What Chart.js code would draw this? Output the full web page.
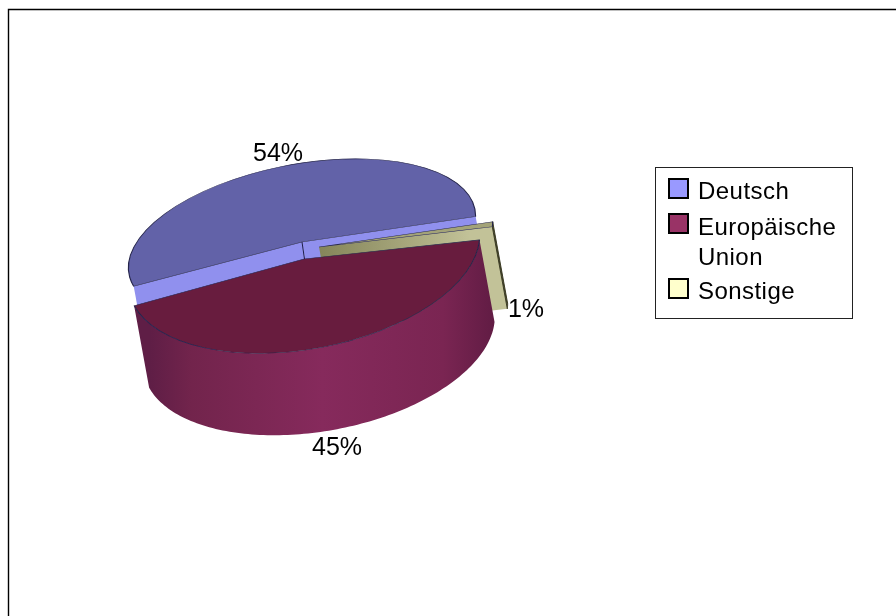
<!DOCTYPE html>
<html><head><meta charset="utf-8">
<style>html,body{margin:0;padding:0;background:#fff}canvas{display:block}</style>
<script src="https://cdn.jsdelivr.net/npm/chart.js@4"></script>
</head><body>
<canvas id="c" width="896" height="616"></canvas>
<script>
const categories = ['Deutsch', 'Europäische Union', 'Sonstige'];
const shares = [54, 45, 1];
const percentLabels = ['54%', '45%', '1%'];
const legendLines = [['Deutsch'], ['Europäische', 'Union'], ['Sonstige']];
const topColors = ['#6262a8', '#681c3e', '#a3a378'];
const swatchColors = ['#9999ff', '#993366', '#ffffcc'];

const FONT = '"Liberation Sans", Arial, sans-serif';
const TILT = -10.5 * Math.PI / 180;
const cosT = Math.cos(TILT), sinT = Math.sin(TILT);
const DROP = {x: 15, y: 82};
const shapes = [
  {cx: 302, cy: 242, a: 176, b: 78},
  {cx: 304, cy: 259, a: 178, b: 90},
  {cx: 319, cy: 247, a: 176, b: 80}
];
const labelSpots = [{x: 278, y: 154}, {x: 337, y: 448}, {x: 526, y: 310}];

function pt(s, ang) {
  const u = s.a * Math.cos(ang), v = -s.b * Math.sin(ang);
  return {x: s.cx + cosT * u - sinT * v, y: s.cy + sinT * u + cosT * v};
}
function quad(ctx, p, q, fill) {
  ctx.beginPath();
  ctx.moveTo(p.x, p.y); ctx.lineTo(q.x, q.y);
  ctx.lineTo(q.x + DROP.x, q.y + DROP.y); ctx.lineTo(p.x + DROP.x, p.y + DROP.y);
  ctx.closePath();
  ctx.fillStyle = fill; ctx.fill();
}
function rim(ctx, s, a0, a1, fill, edge) {
  const n = 120;
  ctx.beginPath();
  for (let i = 0; i <= n; i++) {
    const p = pt(s, a0 + (a1 - a0) * i / n);
    i ? ctx.lineTo(p.x, p.y) : ctx.moveTo(p.x, p.y);
  }
  for (let i = n; i >= 0; i--) {
    const p = pt(s, a0 + (a1 - a0) * i / n);
    ctx.lineTo(p.x + DROP.x, p.y + DROP.y);
  }
  ctx.closePath();
  ctx.fillStyle = fill; ctx.fill();
  if (edge) { ctx.strokeStyle = edge; ctx.lineWidth = 1; ctx.stroke(); }
}
function drawTop(ctx, arc, s) {
  const r = arc.outerRadius;
  ctx.save();
  ctx.transform(cosT * s.a / r, sinT * s.a / r, sinT * s.b / r, -cosT * s.b / r, s.cx, s.cy);
  ctx.translate(-arc.x, -arc.y);
  arc.draw(ctx);
  ctx.restore();
}

const pie3d = {
  id: 'pie3d',
  beforeDraw(chart) {
    const ctx = chart.ctx;
    ctx.save();
    ctx.fillStyle = '#fff'; ctx.fillRect(0, 0, 896, 616);
    ctx.strokeStyle = '#000'; ctx.lineWidth = 1.4;
    ctx.beginPath(); ctx.moveTo(8.5, 616); ctx.lineTo(8.5, 9.5); ctx.lineTo(896, 9.5); ctx.stroke();
    ctx.restore();
  },
  beforeDatasetsDraw(chart) {
    const ctx = chart.ctx;
    const arcs = chart.getDatasetMeta(0).data;
    const [blue, red, other] = arcs;

    // Deutsch: cut faces, then top
    const sB = shapes[0];
    const bApex = {x: sB.cx, y: sB.cy};
    quad(ctx, bApex, pt(sB, blue.startAngle), '#9090ee');
    quad(ctx, bApex, pt(sB, blue.endAngle), '#9090ee');
    ctx.save();
    ctx.strokeStyle = '#1c1c48'; ctx.lineWidth = 1;
    ctx.beginPath(); ctx.moveTo(bApex.x, bApex.y); ctx.lineTo(bApex.x + 2.5, bApex.y + 17); ctx.stroke();
    ctx.restore();
    drawTop(ctx, blue, sB);

    // Sonstige: faces, rim, top
    const sO = shapes[2];
    const oApex = {x: sO.cx, y: sO.cy};
    const g = ctx.createLinearGradient(320, 0, 470, 0);
    g.addColorStop(0, '#85855a'); g.addColorStop(0.55, '#a5a57a'); g.addColorStop(1, '#c2c298');
    quad(ctx, oApex, pt(sO, other.startAngle), g);
    rim(ctx, sO, other.startAngle, other.endAngle, '#3c3c24', '#3c3c24');
    drawTop(ctx, other, sO);

    // Europäische Union: outer wall, top
    const sR = shapes[1];
    const side = ctx.createLinearGradient(150, 0, 495, 0);
    side.addColorStop(0, '#5f1e46'); side.addColorStop(0.12, '#72244c');
    side.addColorStop(0.5, '#862a5c'); side.addColorStop(0.85, '#7a2552'); side.addColorStop(1, '#611c44');
    rim(ctx, sR, red.startAngle, red.endAngle, side);
    drawTop(ctx, red, sR);
    return false;
  },
  afterDraw(chart) {
    const ctx = chart.ctx;
    ctx.save();
    ctx.fillStyle = '#000';
    ctx.textAlign = 'center'; ctx.textBaseline = 'middle';
    ctx.font = '25px ' + FONT;
    percentLabels.forEach((t, i) => ctx.fillText(t, labelSpots[i].x, labelSpots[i].y));

    // Legend
    ctx.fillStyle = '#fff'; ctx.strokeStyle = '#222'; ctx.lineWidth = 1;
    ctx.fillRect(655.5, 167.5, 197, 151); ctx.strokeRect(655.5, 167.5, 197, 151);
    ctx.textAlign = 'left'; ctx.textBaseline = 'alphabetic';
    ctx.font = '24px ' + FONT;
    ctx.letterSpacing = '0.45px';
    const swatchY = [179, 214, 279];
    const baseY = [[199], [235, 265], [299]];
    legendLines.forEach((lines, i) => {
      ctx.fillStyle = swatchColors[i]; ctx.strokeStyle = '#000'; ctx.lineWidth = 2;
      ctx.fillRect(669, swatchY[i], 19, 19); ctx.strokeRect(669, swatchY[i], 19, 19);
      ctx.fillStyle = '#000';
      lines.forEach((l, j) => ctx.fillText(l, 698, baseY[i][j]));
    });
    ctx.restore();
  }
};

new Chart(document.getElementById('c'), {
  type: 'pie',
  data: {labels: categories, datasets: [{
    data: shares,
    backgroundColor: topColors,
    borderColor: '#24244a',
    borderWidth: 2,
    offset: 0
  }]},
  options: {
    responsive: false, animation: false,
    rotation: 85.15,
    layout: {padding: 0},
    plugins: {legend: {display: false}, tooltip: {enabled: false}, title: {display: false}}
  },
  plugins: [pie3d]
});
</script>
</body></html>
